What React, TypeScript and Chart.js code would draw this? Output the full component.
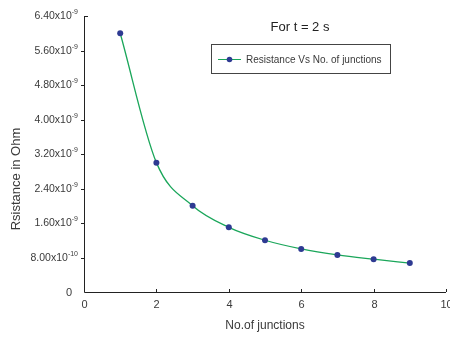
import React, { useEffect, useRef } from "react";
import { Chart, registerables } from "chart.js";

Chart.register(...registerables);

const junctions = [1, 2, 3, 4, 5, 6, 7, 8, 9];
const resistance = [6.0e-9, 3.0e-9, 2.0e-9, 1.5e-9, 1.2e-9, 1.0e-9, 0.86e-9, 0.76e-9, 0.67e-9];
const yTickValues = [0, 0.8e-9, 1.6e-9, 2.4e-9, 3.2e-9, 4.0e-9, 4.8e-9, 5.6e-9, 6.4e-9];
const yTickMantissa = ["0", "8.00", "1.60", "2.40", "3.20", "4.00", "4.80", "5.60", "6.40"];
const yTickExponent = ["", "-10", "-9", "-9", "-9", "-9", "-9", "-9", "-9"];
const xTickLabels = ["0", "2", "4", "6", "8", "10"];
const titleText = "For t = 2 s";
const seriesLabel = "Resistance Vs No. of junctions";
const xTitle = "No.of junctions";
const yTitle = "Rsistance in Ohm";

const FONT = "'Liberation Sans', Arial, sans-serif";
const LINE_COLOR = "#1aa65a";
const POINT_COLOR = "#2e3a92";
const TEXT_COLOR = "#3a3a3a";

export default function App() {
  const ref = useRef<HTMLCanvasElement | null>(null);
  useEffect(() => {
    if (!ref.current) return;
    const decor = {
      id: "decor",
      afterDraw(chart: any) {
        const ctx = chart.ctx as CanvasRenderingContext2D;
        const xs = chart.scales.x;
        const ys = chart.scales.y;
        const area = chart.chartArea;
        ctx.save();
        // axes
        ctx.strokeStyle = "#222";
        ctx.lineWidth = 1;
        ctx.beginPath();
        ctx.moveTo(Math.round(area.left) + 0.5, area.top);
        ctx.lineTo(Math.round(area.left) + 0.5, Math.round(area.bottom) + 0.5);
        ctx.lineTo(area.right, Math.round(area.bottom) + 0.5);
        ctx.stroke();
        // y ticks + labels
        ctx.fillStyle = TEXT_COLOR;
        yTickValues.forEach((v, i) => {
          const py = Math.round(ys.getPixelForValue(v)) + 0.5;
          ctx.beginPath();
          if (i === yTickValues.length - 1) {
            ctx.moveTo(Math.round(area.left), py);
            ctx.lineTo(Math.round(area.left) + 4, py);
          } else if (i > 0) {
            ctx.moveTo(Math.round(area.left) - 3, py);
            ctx.lineTo(Math.round(area.left), py);
          }
          ctx.stroke();
          const m = yTickMantissa[i];
          const e = yTickExponent[i];
          const rightX = area.left - 6;
          if (!e) {
            ctx.font = `11px ${FONT}`;
            ctx.textAlign = "right";
            ctx.textBaseline = "middle";
            ctx.fillText(m, rightX - 6, py);
          } else {
            ctx.font = `7px ${FONT}`;
            const ew = ctx.measureText(e).width;
            ctx.textAlign = "right";
            ctx.textBaseline = "middle";
            ctx.fillText(e, rightX, py - 4);
            ctx.font = `10.5px ${FONT}`;
            ctx.fillText(m + "x10", rightX - ew, py);
          }
        });
        // x ticks + labels
        xTickLabels.forEach((lab) => {
          const v = Number(lab);
          const px = Math.round(xs.getPixelForValue(v)) + 0.5;
          ctx.beginPath();
          ctx.moveTo(px, area.bottom);
          ctx.lineTo(px, area.bottom - 3);
          ctx.stroke();
          ctx.font = `11px ${FONT}`;
          ctx.textAlign = "center";
          ctx.textBaseline = "middle";
          ctx.fillText(lab, px, area.bottom + 13);
        });
        // axis titles
        ctx.font = `12px ${FONT}`;
        ctx.textAlign = "center";
        ctx.textBaseline = "middle";
        ctx.fillText(xTitle, (area.left + area.right) / 2, 326);
        ctx.save();
        ctx.translate(16, 179);
        ctx.rotate(-Math.PI / 2);
        ctx.font = `13px ${FONT}`;
        ctx.fillText(yTitle, 0, 0);
        ctx.restore();
        // title
        ctx.font = `13px ${FONT}`;
        ctx.fillStyle = "#222";
        ctx.fillText(titleText, 300, 27);
        // legend box
        ctx.strokeStyle = "#444";
        ctx.lineWidth = 1;
        ctx.strokeRect(211.5, 44.5, 179, 29);
        ctx.strokeStyle = LINE_COLOR;
        ctx.beginPath();
        ctx.moveTo(218, 59.5);
        ctx.lineTo(241, 59.5);
        ctx.stroke();
        ctx.fillStyle = POINT_COLOR;
        ctx.beginPath();
        ctx.arc(229.5, 59.5, 2.8, 0, Math.PI * 2);
        ctx.fill();
        ctx.fillStyle = TEXT_COLOR;
        ctx.font = `10px ${FONT}`;
        ctx.textAlign = "left";
        ctx.fillText(seriesLabel, 246, 60);
        ctx.restore();
      },
    };
    const chart = new Chart(ref.current, {
      type: "line",
      data: {
        datasets: [
          {
            label: seriesLabel,
            data: junctions.map((x, i) => ({ x, y: resistance[i] })),
            borderColor: LINE_COLOR,
            backgroundColor: POINT_COLOR,
            pointBackgroundColor: POINT_COLOR,
            pointBorderColor: POINT_COLOR,
            pointRadius: 3,
            pointBorderWidth: 0,
            borderWidth: 1.3,
            cubicInterpolationMode: "monotone",
          },
        ],
      },
      options: {
        animation: false,
        responsive: false,
        devicePixelRatio: 1,
        layout: { padding: { left: 0, right: 4, top: 16, bottom: 0 } },
        plugins: { legend: { display: false }, title: { display: false }, tooltip: { enabled: false } },
        scales: {
          x: {
            type: "linear",
            min: 0,
            max: 10,
            border: { display: false },
            grid: { display: false },
            ticks: { display: false },
            afterFit: (s: any) => { s.height = 46; },
          },
          y: {
            type: "linear",
            min: 0,
            max: 6.4e-9,
            border: { display: false },
            grid: { display: false },
            ticks: { display: false },
            afterFit: (s: any) => { s.width = 84; },
          },
        },
      },
      plugins: [decor],
    } as any);
    return () => chart.destroy();
  }, []);
  return (
    <div style={{ position: "absolute", left: 0, top: 0, width: 450, height: 338, background: "#fff" }}>
      <canvas ref={ref} width={450} height={338} />
    </div>
  );
}
